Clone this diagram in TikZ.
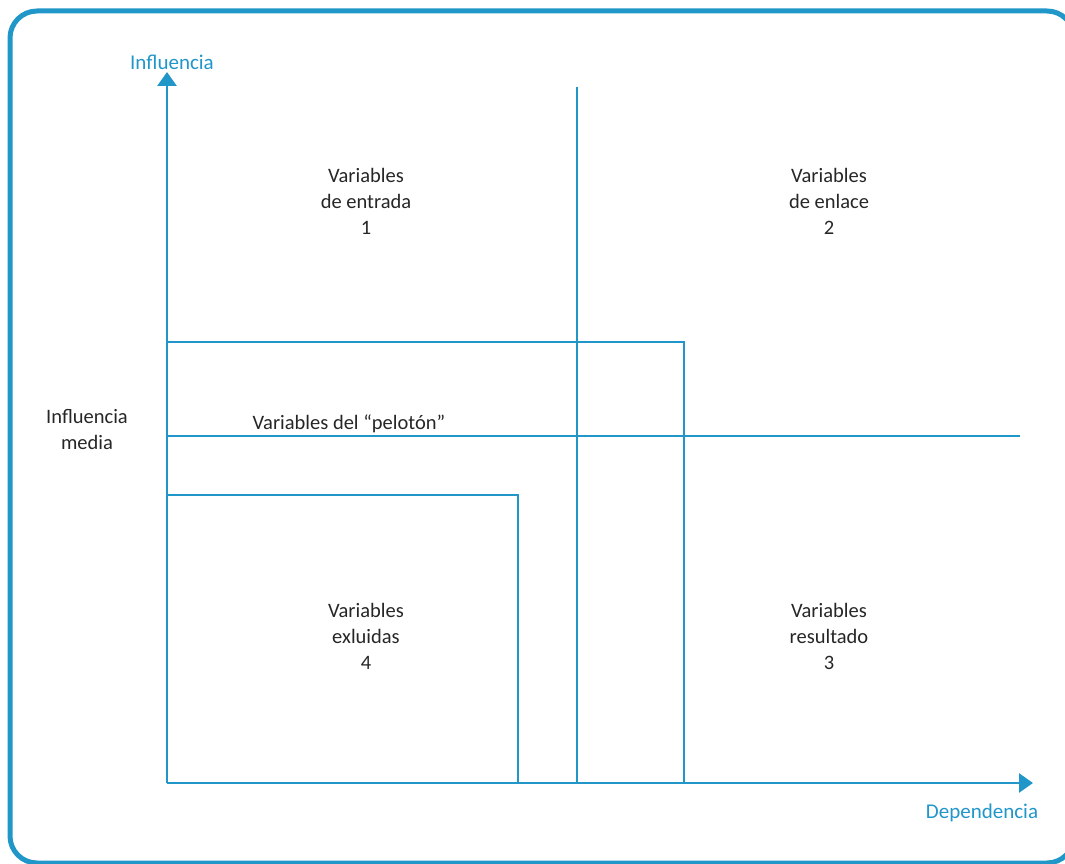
\documentclass[tikz,border=0pt]{standalone}
\usepackage{fontspec}
\setmainfont{Carlito}
\usetikzlibrary{arrows.meta}
\definecolor{cblue}{RGB}{33,150,201}
\definecolor{ctext}{RGB}{38,38,38}
\begin{document}
\begin{tikzpicture}[x=1pt,y=-1pt,
  frame/.style={draw=cblue,line width=5pt,rounded corners=27pt},
  axis/.style={draw=cblue,line width=2.8pt,-{Triangle[width=19pt,length=14pt]}},
  zone/.style={draw=cblue,line width=2.8pt},
  lbl/.style={text=ctext,font=\fontsize{20.5}{26}\selectfont,align=center},
  axlbl/.style={text=cblue,font=\fontsize{21}{24}\selectfont}]
\useasboundingbox (0,0) rectangle (1065,864);
\draw[frame] (10,11) rectangle (1074,863);
\coordinate (o) at (167,783);
\coordinate (ytop) at (167,72);
\coordinate (xend) at (1033,783);
\draw[axis] (o) -- (ytop);
\draw[axis] (o) -- (xend);
\coordinate (vt) at (577,87);
\coordinate (vb) at (577,783);
\draw[zone] (vt) -- (vb);
\coordinate (hl) at (167,436);
\coordinate (hr) at (1020,436);
\draw[zone] (hl) -- (hr);
\coordinate (u1) at (167,342);
\coordinate (u2) at (684,342);
\coordinate (u3) at (684,783);
\draw[zone] (u1) -- (u2) -- (u3);
\coordinate (l1) at (167,495);
\coordinate (l2) at (518,495);
\coordinate (l3) at (518,783);
\draw[zone] (l1) -- (l2) -- (l3);
\node[axlbl] (infl) at (172,62) {Influencia};
\node[axlbl] (dep) at (982,813) {Dependencia};
\node[lbl] (q1) at (366,201) {Variables\\de entrada\\1};
\node[lbl] (q2) at (829,201) {Variables\\de enlace\\2};
\node[lbl] (q4) at (366,636) {Variables\\exluidas\\4};
\node[lbl] (q3) at (829,636) {Variables\\resultado\\3};
\node[lbl] (im) at (87,430) {Influencia\\media};
\node[lbl] (pel) at (349,424) {Variables del “pelotón”};
\end{tikzpicture}
\end{document}
